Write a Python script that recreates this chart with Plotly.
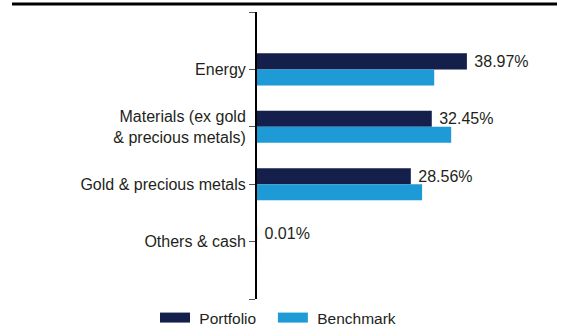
import plotly.graph_objects as go

categories = ["Energy", "Materials (ex gold<br>& precious metals)", "Gold & precious metals", "Others & cash"]
portfolio = [38.97, 32.45, 28.56, 0.01]
benchmark = [32.9, 36.05, 30.65, 0.0]
series_names = ["Portfolio", "Benchmark"]
colors = ["#141f4b", "#1e9bd7"]

FONT = "Liberation Sans, Arial, sans-serif"
TXT = "#231f20"
ypos = list(range(len(categories)))

fig = go.Figure()
fig.add_trace(go.Bar(
    y=ypos, x=portfolio, orientation="h", marker=dict(color=colors[0], line=dict(width=0.02, color=colors[0])),
    text=[f"\u00a0{v:.2f}%" for v in portfolio], textposition="outside", constraintext="none",
    textfont=dict(family=FONT, size=16, color=TXT), cliponaxis=False,
    showlegend=False, hoverinfo="skip"))
fig.add_trace(go.Bar(
    y=ypos, x=benchmark, orientation="h", marker=dict(color=colors[1], line=dict(width=0.02, color=colors[1])),
    showlegend=False, hoverinfo="skip"))
legend_labels = ["\u00a0" + series_names[0] + "\u00a0\u00a0\u2009", "\u00a0" + series_names[1]]
for name, c in zip(legend_labels, colors):
    fig.add_trace(go.Scatter(x=[None], y=[None], mode="lines", name=name,
                             line=dict(color=c, width=12)))

L, R, T, B = 257, 11, 12, 28
W, H = 568, 327
pw, ph = W - L - R, H - T - B

fig.update_layout(
    width=W, height=H, margin=dict(l=L, r=R, t=T, b=B, pad=0, autoexpand=False),
    paper_bgcolor="white", plot_bgcolor="white",
    barmode="group", bargap=0.44, bargroupgap=0,
    font=dict(family=FONT, size=16, color=TXT),
    xaxis=dict(range=[0, 55.7], visible=False, fixedrange=True),
    yaxis=dict(range=[len(categories), -1], showline=True, linecolor="black", linewidth=2,
               tickmode="array", tickvals=[-1] + ypos + [len(categories)],
               ticktext=[""] + categories + [""],
               ticks="outside", ticklen=6, tickcolor="#555", tickwidth=1,
               showgrid=False, zeroline=False, tickfont=dict(size=16, color=TXT)),
    legend=dict(orientation="h", xref="container", x=155 / W, xanchor="left",
                yref="container", y=(H - 318) / H, yanchor="middle",
                font=dict(size=15.5, color=TXT),
                traceorder="normal", bgcolor="rgba(0,0,0,0)"),
    shapes=[dict(type="line", xref="paper", yref="paper",
                 x0=(12 - L) / pw, x1=1, y0=1 + (T - 4) / ph, y1=1 + (T - 4) / ph,
                 line=dict(color="black", width=3))],
)

fig.write_html("out.html")
